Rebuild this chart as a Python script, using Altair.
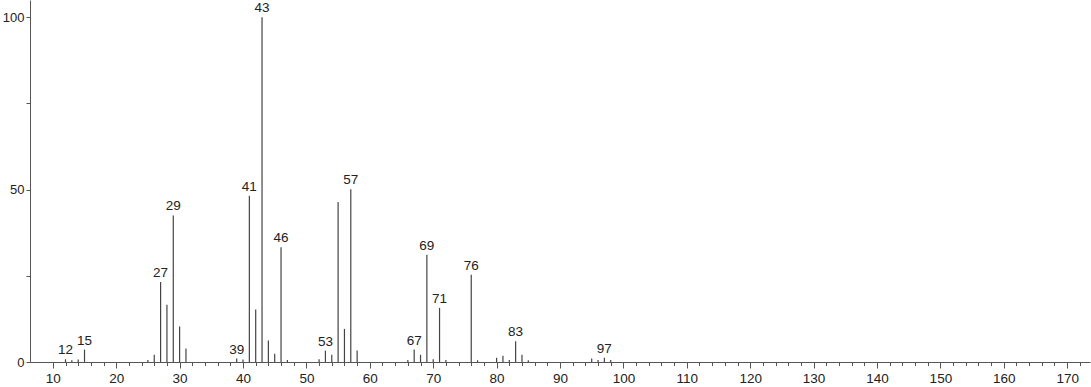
import altair as alt
import pandas as pd

masses = [12, 13, 14, 15, 25, 26, 27, 28, 29, 30, 31, 39, 40, 41, 42, 43, 44, 45, 46, 47,
          52, 53, 54, 55, 56, 57, 58, 66, 67, 68, 69, 70, 71, 72, 76, 77, 80, 81, 82, 83,
          84, 85, 95, 96, 97, 98]
intensities = [0.8, 0.5, 0.7, 3.6, 0.6, 2.1, 23.2, 16.6, 42.5, 10.3, 3.9, 1.0, 0.7, 48.2, 15.2, 100, 6.2, 2.4, 33.3, 0.6,
               0.8, 3.3, 2.1, 46.4, 9.6, 50.1, 3.3, 0.6, 3.6, 2.1, 31.1, 0.8, 15.7, 0.6, 25.3, 0.5, 1.2, 1.8, 0.6, 6.0,
               2.1, 0.5, 1.0, 0.6, 1.2, 0.6]
labeled = [12, 15, 27, 29, 39, 41, 43, 46, 53, 57, 67, 69, 71, 76, 83, 97]

x_major = list(range(10, 171, 10))
x_minor = [v for v in range(10, 173, 2) if v % 10 != 0]
y_major = [0, 50, 100]
y_minor = [25, 75]

df = pd.DataFrame({"mz": masses, "intensity": intensities})
lab = df[df["mz"].isin(labeled)]

FONT = "Liberation Sans"
AX = "#555"
TX = "#222"

xscale = alt.Scale(domain=[6.4, 173.6], nice=False, zero=False)
yscale = alt.Scale(domain=[0, 105], nice=False)

bars = alt.Chart(df).mark_rule(color="#444", strokeWidth=1.2).encode(
    x=alt.X("mz:Q", scale=xscale, axis=alt.Axis(
        title=None, values=x_major, grid=False, orient="bottom",
        labelFontSize=13.5, labelFont=FONT, labelColor=TX, labelPadding=3,
        labelOverlap=False, domainColor=AX, tickColor=AX, tickSize=6)),
    y=alt.Y("intensity:Q", scale=yscale, axis=alt.Axis(
        title=None, values=y_major, grid=False, orient="left",
        labelFontSize=13, labelFont=FONT, labelColor=TX, labelPadding=2,
        labelOverlap=False, domainColor=AX, tickColor=AX, tickSize=4)),
    y2=alt.datum(0),
)

minor = alt.Chart(df).mark_point(opacity=0).encode(
    x=alt.X("mz:Q", scale=xscale, axis=alt.Axis(
        title=None, values=x_minor, grid=False, orient="bottom",
        labels=False, domain=False, tickColor=AX, tickSize=3.5)),
    y=alt.Y("intensity:Q", scale=yscale, axis=alt.Axis(
        title=None, values=y_minor, grid=False, orient="left",
        labels=False, domain=False, tickColor=AX, tickSize=4)),
)

texts = alt.Chart(lab).mark_text(
    baseline="bottom", dy=-2, fontSize=13.5, font=FONT, color=TX
).encode(
    x=alt.X("mz:Q", scale=xscale, axis=None),
    y=alt.Y("intensity:Q", scale=yscale, axis=None),
    text=alt.Text("mz:Q"),
)

chart = alt.layer(bars, minor, texts).resolve_axis(
    x="independent", y="independent"
).properties(
    width=1060, height=362,
    autosize=alt.AutoSizeParams(type="none"),
    padding={"left": 30, "top": 0, "right": 1, "bottom": 25},
).configure_view(stroke=None)

chart.save("out.html", embed_options={"renderer": "svg", "actions": False})
